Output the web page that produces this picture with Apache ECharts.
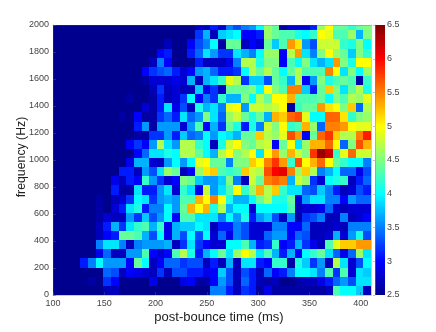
<!DOCTYPE html>
<html>
<head>
<meta charset="utf-8">
<style>html,body{margin:0;padding:0;background:#fff}#c{width:436px;height:332px}</style>
<script src="https://cdn.jsdelivr.net/npm/echarts@6/dist/echarts.min.js"></script>
</head>
<body>
<div id="c"></div>
<script>
// Each row lists its cells up to the right-hand edge; cells further left sit at the colour floor.
const r00=[2.7,2.7,3.1,2.8,3.5,3.3,3.5,3.6,4.0,4.6,4.4,2.6,2.8,2.8,2.8,3.1,4.6,5.0,4.4,4.4,4.2,4.4,4.5];
const r01=[3.2,3.7,2.7,3.8,3.9,4.0,3.0,3.0,3.1,4.6,4.4,4.3,4.3,4.1,4.0,4.2,5.0,4.9,4.3,4.3,4.6,3.7,4.5];
const r02=[2.7,2.5,2.5,3.0,3.3,3.5,4.0,2.6,4.4,4.4,2.7,3.0,2.8,4.4,3.8,4.3,5.4,5.1,3.6,3.3,4.8,4.8,4.8,4.2,4.1,4.5,4.0];
const r03=[3.0,3.1,2.5,2.5,3.1,3.4,3.9,3.6,3.2,3.2,3.9,3.7,3.5,4.0,4.6,4.6,3.0,4.7,5.4,3.9,3.5,4.5,5.0,4.6,4.4,3.8,4.5,4.2];
const r04=[2.7,3.5,3.0,2.5,2.5,2.5,3.1,2.7,2.7,2.7,2.9,3.5,4.7,4.7,4.1,4.5,4.5,3.0,4.3,4.0,4.5,3.9,3.7,3.9,5.4,4.5,4.1,5.0,5.0];
const r05=[3.0,3.2,3.3,3.4,3.1,2.8,3.0,3.6,3.7,3.4,3.1,3.1,3.2,4.0,4.7,4.4,4.7,4.4,4.0,4.4,4.7,4.3,4.3,4.3,5.5,5.0,3.9,4.5,4.0,4.6];
const r06=[2.6,2.8,2.8,2.8,2.9,2.8,3.7,2.7,3.7,3.9,4.2,4.9,4.7,3.2,3.8,3.8,3.3,4.4,4.2,3.7,4.7,3.0,3.6,4.5,4.1,4.3,4.4,4.3,2.6,4.2];
const r07=[2.7,3.2,2.7,2.8,2.7,2.7,3.8,2.9,3.2,2.7,4.4,4.4,4.4,4.5,4.0,5.0,4.5,4.3,5.5,5.5,3.8,3.1,4.4,5.2,4.5,3.9,4.4,4.7,4.1];
const r08=[2.6,2.5,2.5,2.6,3.1,2.7,2.8,3.2,4.0,3.0,3.5,3.2,4.2,3.7,3.7,4.5,4.0,4.7,4.4,5.0,5.0,5.3,4.3,4.3,4.3,4.4,4.0,4.5,4.3,4.7,4.6,4.9];
const r09=[2.8,2.6,3.1,3.9,2.9,3.3,2.7,4.1,3.7,3.9,3.5,4.9,5.0,3.6,4.8,4.8,4.7,4.8,5.0,2.6,4.2,4.4,4.4,5.4,5.1,5.0,4.5,5.2,3.4,4.7];
const r10=[2.6,2.5,3.0,2.6,2.6,3.2,3.4,3.1,3.9,3.4,3.6,4.5,3.9,3.4,4.6,4.8,4.4,4.1,4.4,3.7,5.3,5.2,5.6,5.7,4.9,4.0,4.0,5.6,5.6,5.1,4.2,4.5,4.6];
const r11=[3.1,3.6,2.6,3.6,3.6,3.6,2.8,3.6,4.3,3.0,3.7,3.2,4.4,4.1,3.1,4.1,3.5,4.8,4.5,5.0,4.2,4.3,5.3,4.6,3.4,5.5,5.5,5.4,5.0,4.9,4.9];
const r12=[2.6,2.6,3.2,3.2,3.6,3.1,3.8,3.4,3.5,4.0,3.6,4.0,3.9,3.7,4.4,4.4,5.2,4.7,4.6,4.9,5.7,5.4,3.0,4.4,5.6,5.8,5.2,4.7,4.7,5.5,5.9];
const r13=[3.0,3.2,3.0,3.6,4.7,3.9,3.6,4.7,4.7,4.2,4.0,2.7,4.1,4.8,5.0,4.5,4.4,4.7,4.8,3.0,4.4,5.0,3.9,4.6,5.3,5.3,5.6,5.0,3.4,4.5,5.7,5.3];
const r14=[3.0,3.4,3.9,3.9,4.1,4.0,4.7,4.7,4.4,4.0,3.7,4.7,5.0,4.5,4.7,5.0,3.9,5.0,5.4,4.6,5.3,4.8,4.5,5.8,6.4,6.2,4.2,4.9,5.6,4.8,4.8];
const r15=[2.9,3.7,3.7,2.8,2.7,3.6,4.0,3.6,4.0,4.9,5.0,4.4,4.4,3.5,4.5,4.5,5.2,5.0,5.5,5.8,5.4,4.2,5.7,5.0,5.3,5.6,5.0,4.4,4.2,4.0,4.0,3.5];
const r16=[3.1,3.1,2.7,3.6,3.3,3.9,4.6,4.4,2.7,3.0,4.6,5.1,5.2,4.3,4.2,4.3,5.2,4.8,4.7,5.7,6.0,6.1,5.5,4.6,5.2,4.7,3.5,3.7,4.0,3.4,3.4,2.9,3.3];
const r17=[2.9,2.7,3.1,3.0,4.2,3.6,3.2,2.8,3.0,4.5,4.4,3.8,3.6,3.6,3.8,4.5,3.5,2.7,4.8,4.4,5.5,5.6,5.5,3.7,4.8,4.6,3.2,2.8,4.0,4.1,4.2,2.7,3.1,3.4];
const r18=[3.1,2.6,2.6,3.9,3.1,3.1,3.6,3.9,2.8,4.2,3.9,2.9,4.8,3.6,3.9,4.3,5.0,4.2,4.6,5.3,4.7,5.2,4.2,3.9,3.9,3.4,3.3,3.8,3.5,3.1,2.7,2.8,3.3,3.1];
const r19=[2.6,2.5,2.7,2.8,3.2,4.0,3.9,3.2,3.6,3.7,3.6,4.3,4.3,5.3,5.0,5.5,5.0,4.1,3.7,3.7,4.0,4.4,4.7,4.1,4.1,4.4,2.8,3.6,3.9,3.9,3.5,3.5,3.0,3.6,3.4,3.4];
const r20=[2.6,2.5,2.8,3.1,3.9,4.1,3.1,3.5,3.5,4.0,3.6,4.4,5.3,5.0,5.3,4.1,4.7,3.7,4.0,4.0,2.8,4.0,4.0,4.0,4.0,4.3,2.7,2.8,2.8,2.9,3.4,2.8,2.7,2.8,2.8,2.8];
const r21=[2.6,2.8,2.7,2.7,3.6,3.2,3.8,3.3,3.6,4.0,3.0,4.3,4.3,3.9,3.9,3.9,3.5,4.0,3.6,4.1,3.1,3.6,3.8,3.3,2.7,3.6,2.6,3.2,3.3,3.5,2.7,2.7,3.5,2.7,2.8,3.0];
const r22=[2.7,3.1,3.7,3.2,3.9,4.2,4.3,3.7,4.2,2.9,3.7,3.8,3.8,4.0,3.9,2.7,3.1,3.1,3.5,3.3,2.8,2.8,2.8,3.5,3.5,3.0,3.0,3.4,2.7,2.7,2.7,2.8,2.7,3.5,3.5,3.5];
const r23=[2.7,3.0,3.1,4.4,4.4,4.3,3.7,3.3,4.0,2.9,3.7,3.3,4.0,3.3,4.0,2.8,3.4,2.9,3.5,3.3,2.8,2.8,3.4,3.6,3.6,3.0,3.4,3.3,2.7,2.7,2.8,3.7,2.8,3.6,4.1,3.3];
const r24=[3.5,3.9,3.9,3.5,2.7,3.5,3.6,3.6,3.6,3.7,2.7,3.2,3.9,3.2,3.0,2.8,2.8,4.0,4.0,4.3,3.7,3.1,3.2,4.2,3.0,3.1,3.7,3.2,2.9,2.7,4.3,4.9,5.2,5.2,5.4,5.4];
const r25=[2.9,3.4,2.7,2.7,3.6,3.6,4.3,3.0,2.8,3.0,4.3,4.7,4.1,3.1,3.7,4.0,4.4,3.9,4.6,5.0,4.7,3.9,4.3,3.7,3.1,3.7,3.0,4.0,4.2,4.4,3.9,3.4,2.9,3.4,4.6,3.9];
const r26=[3.1,3.5,4.0,3.6,3.6,3.6,3.0,4.4,4.0,2.7,3.0,3.4,3.4,3.2,3.3,3.3,2.7,3.1,2.7,3.7,2.7,3.9,3.9,3.1,3.0,4.2,4.2,2.6,4.1,3.8,3.2,3.6,2.7,4.7,3.9,2.8,3.3,4.0];
const r27=[3.4,3.3,2.7,3.0,2.9,2.8,2.7,3.2,2.7,3.3,3.3,3.1,3.1,2.9,3.0,3.8,3.3,2.7,3.3,3.1,2.7,3.4,3.0,3.1,3.5,4.0,4.0,3.9,3.5,4.3,3.2,4.3,2.8,3.9,3.8];
const r28=[2.6,2.5,3.2,3.0,2.5,2.5,2.5,2.5,2.9,2.5,2.5,2.5,2.9,3.0,2.6,2.6,3.0,3.6,3.3,2.7,3.4,3.1,2.7,2.6,2.7,2.5,2.5,2.6,2.7,2.7,2.9,3.1,3.4,3.6,3.3,3.9,3.9];
const r29=[2.7,2.7,2.5,2.5,2.5,2.5,2.5,2.5,2.5,2.5,2.5,2.5,2.5,2.5,3.5,3.5,3.1,2.7,3.2,3.1,2.6,2.9,2.6,2.6,2.6,2.6,2.6,2.6,2.6,2.7,4.3,4.0,4.0,3.8,2.7];
const rowsTopDown=[r00,r01,r02,r03,r04,r05,r06,r07,r08,r09,r10,r11,r12,r13,r14,r15,r16,r17,r18,r19,r20,r21,r22,r23,r24,r25,r26,r27,r28,r29];

const xTicks=[100,150,200,250,300,350,400];
const yTicks=[0,200,400,600,800,1000,1200,1400,1600,1800,2000];
const barTicks=[2.5,3,3.5,4,4.5,5,5.5,6,6.5];
const jetColors=['#00008f','#0000ff','#0080ff','#00ffff','#80ff80','#ffff00','#ff8000','#ff0000','#800000'];

const N_COLS=42, FLOOR=2.5;
const X_MAX=410, STEP_T=7.457, STEP_F=67.6;
const cells=[];
rowsTopDown.forEach((row,ri)=>{
  const fMid=(rowsTopDown.length-1-ri+0.5)*STEP_F;
  const full=Array(N_COLS-row.length).fill(FLOOR).concat(row);
  full.forEach((v,ci)=>{
    const tMid=X_MAX-(N_COLS-ci-0.5)*STEP_T;
    cells.push([tMid,Math.min(fMid,2000),v,fMid]);
  });
});

const TXT='#444', LINE='#555', FONT='"Liberation Sans", Arial, sans-serif';
const plain=v=>String(v);
const chart=echarts.init(document.getElementById('c'),null,{renderer:'canvas'});
function frameAxis(extra){
  return Object.assign({
    z:5,
    axisLine:{show:true,onZero:false,lineStyle:{color:LINE,width:0.5,opacity:0.6}},
    axisTick:{show:false},axisLabel:{show:false},splitLine:{show:false}
  },extra);
}
chart.setOption({
  animation:false,
  backgroundColor:'#fff',
  textStyle:{fontFamily:FONT},
  grid:[
    {left:53,top:25,width:318,height:270,show:false,outerBoundsMode:'none'},
    {left:375,top:25,width:10,height:270,show:false,outerBoundsMode:'none'}
  ],
  xAxis:[
    frameAxis({type:'value',gridIndex:0,position:'bottom',min:100,max:X_MAX,
      axisTick:{show:true,inside:true,length:3,customValues:xTicks,lineStyle:{color:LINE,width:0.5}},
      axisLabel:{show:true,customValues:xTicks,color:TXT,fontSize:9,margin:4,fontFamily:FONT,formatter:plain},
      name:'post-bounce time (ms)',nameLocation:'middle',nameGap:16,nameMoveOverlap:false,
      nameTextStyle:{fontSize:13,color:'#222',fontFamily:FONT,padding:[0,0,0,14]}}),
    frameAxis({type:'value',gridIndex:0,position:'top',min:100,max:X_MAX}),
    {type:'value',gridIndex:1,min:0,max:1,show:false}
  ],
  yAxis:[
    frameAxis({type:'value',gridIndex:0,position:'left',min:0,max:2000,interval:200,
      axisTick:{show:true,inside:true,length:3,customValues:yTicks,lineStyle:{color:LINE,width:0.5}},
      axisLabel:{show:true,customValues:yTicks,color:TXT,fontSize:9,margin:4,fontFamily:FONT,formatter:plain},
      name:'frequency (Hz)',nameLocation:'middle',nameGap:25,nameMoveOverlap:false,
      nameTextStyle:{fontSize:12.3,color:'#222',fontFamily:FONT,padding:[0,0,0,6]}}),
    frameAxis({type:'value',gridIndex:0,position:'right',min:0,max:2000,interval:200}),
    {type:'value',gridIndex:1,position:'right',min:2.5,max:6.5,interval:0.5,z:5,
      axisLine:{show:true,lineStyle:{color:'#888',width:0.5}},
      axisTick:{show:true,inside:true,length:2,lineStyle:{color:'#888',width:0.5}},
      axisLabel:{show:true,customValues:barTicks,color:TXT,fontSize:9,margin:2,fontFamily:FONT,formatter:plain},
      splitLine:{show:false}}
  ],
  visualMap:{show:false,type:'continuous',seriesIndex:0,dimension:2,min:2.5,max:6.5,inRange:{color:jetColors}},
  series:[
    {type:'custom',xAxisIndex:0,yAxisIndex:0,clip:true,encode:{x:0,y:1},data:cells,z:2,
     renderItem(params,api){
       const t=api.value(0), f=api.value(3);
       const a=api.coord([t-STEP_T/2,f-STEP_F/2]);
       const b=api.coord([t+STEP_T/2,f+STEP_F/2]);
       const x0=Math.round(a[0]), x1=Math.round(b[0]), y1=Math.round(a[1]), y0=Math.round(b[1]);
       return {type:'rect',
         shape:{x:x0,y:y0,width:x1-x0,height:y1-y0},
         style:{fill:api.visual('color')}};
     }},
    {type:'custom',xAxisIndex:2,yAxisIndex:2,clip:true,data:[[0,2.5]],z:2,
     renderItem(params,api){
       const a=api.coord([0,2.5]), b=api.coord([1,6.5]);
       return {type:'rect',
         shape:{x:a[0],y:b[1],width:b[0]-a[0],height:a[1]-b[1]},
         style:{fill:new echarts.graphic.LinearGradient(0,1,0,0,
           jetColors.map((c,i)=>({offset:i/(jetColors.length-1),color:c})))}};
     }}
  ]
});
</script>
</body>
</html>
